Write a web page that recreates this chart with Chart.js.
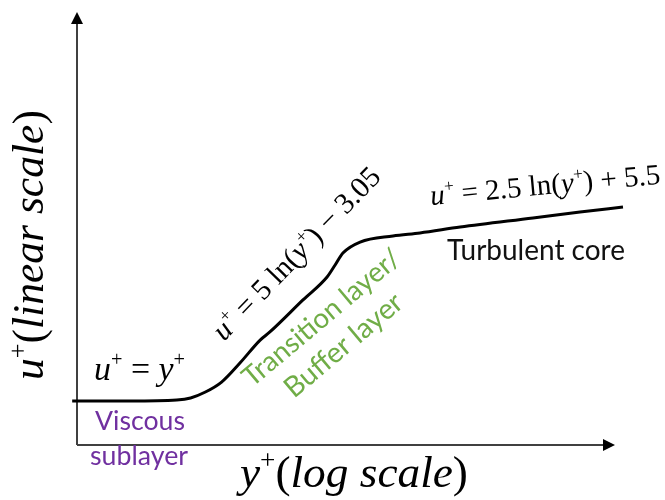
<!DOCTYPE html>
<html lang="en">
<head>
<meta charset="UTF-8">
<title>Law of the wall</title>
<script src="https://cdn.jsdelivr.net/npm/chart.js"></script>
<style>
    html, body { margin: 0; padding: 0; background: #fff; }
    #wrap { width: 665px; height: 500px; }
</style>
</head>
<body>
<div id="wrap"><canvas id="chart" width="665" height="500"></canvas></div>
<script>
// velocity profile: y+ on a log axis, u+ on a linear axis
const yPlus = [0.94, 1.98, 3.6, 4.3, 5.2, 6.4, 8.1, 10.5, 11.9, 18.2, 24.8, 27.5, 30.4, 37.9, 57.8, 81.8, 137, 349, 638, 1108];
const uPlus = [3.05, 3.05, 3.12, 3.26, 3.67, 4.36, 5.68, 7.27, 7.83, 10.05, 11.64, 12.47, 13.30, 14.06, 14.48, 14.69, 15.10, 15.73, 16.14, 16.49];
const xRange = [1, 1000];
const yRange = [0, 30];

// texts: [piece, style]  i = italic, n = upright, s = superscript
const yAxisTitle = [['u', 'i'], ['+', 's'], ['(', 'n'], ['linear scale', 'i'], [')', 'n']];
const xAxisTitle = [['y', 'i'], ['+', 's'], ['(', 'n'], ['log scale', 'i'], [')', 'n']];
const lawViscous = [['u', 'i'], ['+', 's'], [' = ', 'n'], ['y', 'i'], ['+', 's']];
const lawBuffer = [['u', 'i'], ['+', 's'], [' = 5 ln(', 'n'], ['y', 'i'], ['+', 's'], [') \u2212 3.05', 'n']];
const lawCore = [['u', 'i'], ['+', 's'], [' = 2.5 ln(', 'n'], ['y', 'i'], ['+', 's'], [') + 5.5', 'n']];
const regionNames = ['Viscous', 'sublayer', 'Transition layer/', 'Buffer layer', 'Turbulent core'];

const SERIF = '"Liberation Serif", "DejaVu Serif", serif';
const SANS = 'Lato, "Open Sans", sans-serif';

// where each text goes (x, y = start of baseline unless align centre)
const labels = [
    { parts: yAxisTitle, x: 43, y: 380, angle: -90, width: 270, family: SERIF, color: '#000' },
    { parts: xAxisTitle, x: 240, y: 487, angle: 0, width: 228, family: SERIF, color: '#000' },
    { parts: lawViscous, x: 94, y: 380, angle: 0, width: 91, family: SERIF, color: '#000' },
    { parts: lawBuffer, x: 224, y: 342, angle: -46, width: 228, family: SERIF, color: '#000' },
    { parts: lawCore, x: 431, y: 205, angle: -5.3, width: 231, family: SERIF, color: '#000' },
    { parts: [[regionNames[0], 'n']], x: 140, y: 430, angle: 0, width: 90, align: 'center', family: SANS, color: '#7030A0' },
    { parts: [[regionNames[1], 'n']], x: 139, y: 465, angle: 0, width: 98, align: 'center', family: SANS, color: '#7030A0' },
    { parts: [[regionNames[2], 'n']], x: 252, y: 388, angle: -40, width: 197, family: SANS, color: '#70AD47' },
    { parts: [[regionNames[3], 'n']], x: 294, y: 399, angle: -40, width: 145, family: SANS, color: '#70AD47' },
    { parts: [[regionNames[4], 'n']], x: 447, y: 260, angle: 0, width: 178, family: SANS, color: '#111' }
];

function fontFor(style, size, family) {
    const s = style === 's' ? size * 0.6 : size;
    return (style === 'i' ? 'italic ' : '') + s.toFixed(2) + 'px ' + family;
}

function richWidth(ctx, parts, size, family) {
    let w = 0;
    parts.forEach(([t, st]) => {
        ctx.font = fontFor(st, size, family);
        w += ctx.measureText(t).width;
    });
    return w;
}

function drawRich(ctx, lab) {
    const base = 20;
    const size = base * lab.width / richWidth(ctx, lab.parts, base, lab.family);
    const w = richWidth(ctx, lab.parts, size, lab.family);
    ctx.save();
    ctx.translate(lab.x, lab.y);
    ctx.rotate(lab.angle * Math.PI / 180);
    ctx.fillStyle = lab.color;
    ctx.textBaseline = 'alphabetic';
    ctx.textAlign = 'left';
    let x = lab.align === 'center' ? -w / 2 : 0;
    lab.parts.forEach(([t, st]) => {
        ctx.font = fontFor(st, size, lab.family);
        ctx.fillText(t, x, st === 's' ? -size * 0.4 : 0);
        x += ctx.measureText(t).width;
    });
    ctx.restore();
}

const axesPlugin = {
    id: 'arrowAxes',
    beforeDatasetsDraw(chart) {
        const ctx = chart.ctx;
        const area = chart.chartArea;
        const x0 = chart.scales.x.getPixelForValue(xRange[0]);
        const y0 = chart.scales.y.getPixelForValue(yRange[0]);
        const head = 12, half = 6;
        ctx.save();
        ctx.strokeStyle = '#404040';
        ctx.lineWidth = 2;
        ctx.beginPath();
        ctx.moveTo(x0, y0);
        ctx.lineTo(x0, area.top + head);
        ctx.moveTo(x0, y0);
        ctx.lineTo(area.right - head, y0);
        ctx.stroke();
        ctx.fillStyle = '#000';
        ctx.beginPath();
        ctx.moveTo(x0, area.top);
        ctx.lineTo(x0 - half, area.top + head);
        ctx.lineTo(x0 + half, area.top + head);
        ctx.closePath();
        ctx.fill();
        ctx.beginPath();
        ctx.moveTo(area.right, y0);
        ctx.lineTo(area.right - head, y0 - half);
        ctx.lineTo(area.right - head, y0 + half);
        ctx.closePath();
        ctx.fill();
        ctx.restore();
    },
    afterDraw(chart) {
        labels.forEach(lab => drawRich(chart.ctx, lab));
    }
};

new Chart(document.getElementById('chart'), {
    type: 'line',
    data: {
        datasets: [{
            data: yPlus.map((v, i) => ({ x: v, y: uPlus[i] })),
            borderColor: '#000',
            borderWidth: 3,
            pointRadius: 0,
            cubicInterpolationMode: 'monotone',
            clip: false
        }]
    },
    options: {
        responsive: false,
        animation: false,
        layout: { padding: { left: 77, right: 50, top: 12, bottom: 55 } },
        scales: {
            x: { type: 'logarithmic', min: xRange[0], max: xRange[1], display: false },
            y: { type: 'linear', min: yRange[0], max: yRange[1], display: false }
        },
        plugins: {
            legend: { display: false },
            tooltip: { enabled: false }
        }
    },
    plugins: [axesPlugin]
});
</script>
</body>
</html>
